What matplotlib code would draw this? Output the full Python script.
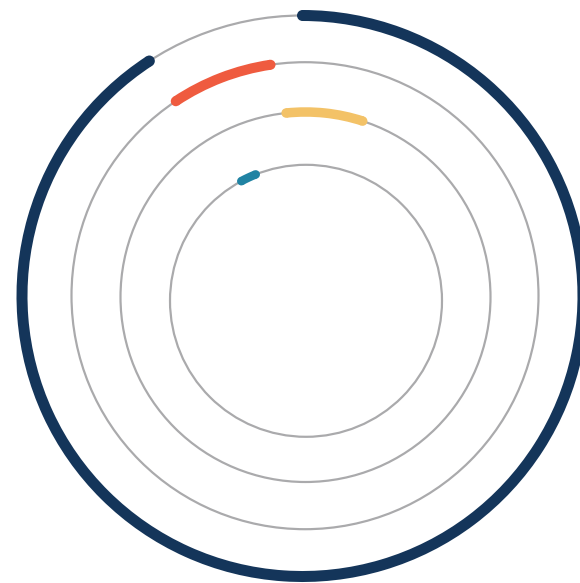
import matplotlib
matplotlib.use("Agg")
import matplotlib.pyplot as plt
from matplotlib.patches import Circle, Wedge
import numpy as np

# arc extents, degrees clockwise from 12 o'clock (outer ring first)
arc_start = [0.0, -33.6, -6.0, -28.4]
arc_end = [326.9, -8.5, 18.0, -21.7]
arc_colors = ["#14355a", "#ef5b3f", "#f3c267", "#2083a3"]

# ring geometry in pixels (rings are not exactly concentric in the source)
centers = [(302.5, 296.0), (305.0, 295.7), (305.5, 297.0), (306.0, 300.8)]
radii = [280.5, 233.5, 185.0, 136.0]
arc_widths = [11.0, 10.0, 9.5, 8.5]

PT = 0.72  # points per pixel at dpi 100


def draw_ring(ax, center, radius, start, end, color, width):
    """ Gray track circle with a coloured progress arc on top.
    The arc is a filled wedge so Agg does not drop it at the canvas edge.
    """
    cx, cy = center
    ax.add_patch(Circle(center, radius, fill=False, edgecolor="#aaaaac",
                        linewidth=2.2 * PT, zorder=1))
    # y axis is inverted, so data angle = screen clockwise angle - 90
    ax.add_patch(Wedge(center, radius + width / 2, start - 90, end - 90,
                       width=width, facecolor=color, linewidth=0, zorder=2))
    for a in np.radians([start, end]):
        cap = (cx + radius * np.sin(a), cy - radius * np.cos(a))
        ax.add_patch(Circle(cap, width / 2, facecolor=color, linewidth=0,
                            zorder=2))


fig = plt.figure(figsize=(5.8, 5.83), dpi=100)
ax = fig.add_axes([0, 0, 1, 1])
ax.set_xlim(0, 580)
ax.set_ylim(583, 0)
ax.set_aspect("equal")
ax.axis("off")

for i in range(len(radii)):
    draw_ring(ax, centers[i], radii[i], arc_start[i], arc_end[i],
              arc_colors[i], arc_widths[i])

fig.savefig("out.png", dpi=100, facecolor="white")
